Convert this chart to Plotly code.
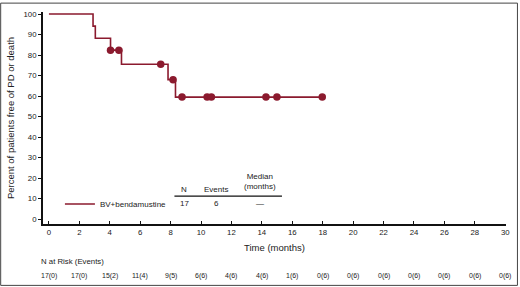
import plotly.graph_objects as go

# Kaplan-Meier step curve (time in months, % free of PD or death)
step_times = [0, 2.9, 3.05, 4.05, 4.77, 7.83, 8.32, 18.0]
step_surv = [100, 94.1, 88.2, 82.4, 75.5, 68.0, 59.5, 59.5]

# Censored observations
cens_times = [4.05, 4.6, 7.35, 8.16, 8.75, 10.4, 10.68, 14.27, 14.99, 17.97]
cens_surv = [82.4, 82.4, 75.5, 68.0, 59.5, 59.5, 59.5, 59.5, 59.5, 59.5]

# Number at risk table
risk_times = [0, 2, 4, 6, 8, 10, 12, 14, 16, 18, 20, 22, 24, 26, 28, 30]
risk_labels = ["17(0)", "17(0)", "15(2)", "11(4)", "9(5)", "6(6)", "4(6)", "4(6)",
               "1(6)", "0(6)", "0(6)", "0(6)", "0(6)", "0(6)", "0(6)", "0(6)"]

# Legend table
series_name = "BV+bendamustine"
table_headers = ["N", "Events", "Median<br>(months)"]
table_values = ["17", "6", "—"]

x_ticks = list(range(0, 31, 2))
y_ticks = list(range(0, 101, 10))

COLOR = "#8b1a2e"
TXT = "#222222"
FONT = "Liberation Sans, Arial, sans-serif"

fig = go.Figure()
fig.add_trace(go.Scatter(x=step_times, y=step_surv, mode="lines", line_shape="hv",
                         line=dict(color=COLOR, width=1.6), name=series_name,
                         showlegend=True))
fig.add_trace(go.Scatter(x=cens_times, y=cens_surv, mode="markers",
                         marker=dict(color=COLOR, size=7.5), showlegend=False))

W, H = 520, 287
ml, mr, mt, mb = 43, 12, 9.5, 62.7
pw = W - ml - mr
ph = H - mt - mb

def xp(px):
    return (px - ml) / pw

def yp(py):
    return (H - mb - py) / ph

ann = []
hdr_x = [185, 217, 261]
for hx, ht, hv in zip(hdr_x, table_headers, table_values):
    ann.append(dict(x=xp(hx), y=yp(189 if "Median" not in ht else 181.5), xref="paper", yref="paper",
                    text=ht, showarrow=False, font=dict(size=8, color=TXT, family=FONT),
                    xanchor="center", yanchor="middle"))
    ann.append(dict(x=xp(hx), y=yp(204), xref="paper", yref="paper",
                    text=hv, showarrow=False, font=dict(size=8, color=TXT, family=FONT),
                    xanchor="center", yanchor="middle"))

ann.append(dict(x=xp(39), y=yp(262), xref="paper", yref="paper", text="N at Risk (Events)",
                showarrow=False, font=dict(size=7.8, color=TXT, family=FONT),
                xanchor="left", yanchor="middle"))
for t, lab in zip(risk_times, risk_labels):
    ann.append(dict(x=t, y=yp(277), xref="x", yref="paper", text=lab, showarrow=False,
                    font=dict(size=7, color=TXT, family=FONT), xanchor="center", yanchor="middle"))

shapes = [
    dict(type="line", xref="paper", yref="paper", x0=xp(175), x1=xp(283), y0=yp(196), y1=yp(196),
         line=dict(color="#111", width=1.2)),
    dict(type="rect", xref="paper", yref="paper", x0=xp(0.5), x1=xp(W - 0.5), y0=yp(0.5), y1=yp(H - 0.5),
         line=dict(color="#444", width=1)),
]

fig.update_layout(
    width=W, height=H,
    margin=dict(l=ml, r=mr, t=mt, b=mb),
    paper_bgcolor="white", plot_bgcolor="white",
    font=dict(family=FONT, color=TXT, size=8),
    legend=dict(x=xp(60), y=yp(204), xanchor="left", yanchor="middle",
                bgcolor="rgba(0,0,0,0)", font=dict(size=8, color=TXT, family=FONT),
                itemwidth=30, tracegroupgap=0),
    annotations=ann,
    shapes=shapes,
    xaxis=dict(range=[-0.39, 30.05], tickvals=x_ticks, ticks="inside", ticklen=3,
               tickcolor="#111", showline=True, linecolor="#111", linewidth=1.8,
               showgrid=False, zeroline=False, tickfont=dict(size=7.8, color=TXT),
               title=dict(text="Time (months)", font=dict(size=9.5, color=TXT), standoff=8)),
    yaxis=dict(range=[-2.4, 101], tickvals=y_ticks, ticks="outside", ticklen=3,
               tickcolor="#111", showline=True, linecolor="#111", linewidth=1.8,
               showgrid=False, zeroline=False, tickfont=dict(size=7.8, color=TXT),
               title=dict(text="Percent of patients free of PD or death",
                          font=dict(size=9.5, color=TXT), standoff=7)),
)

fig.write_html("out.html", config={"displayModeBar": False},
               post_script="document.body.style.margin='0';document.body.style.padding='0';")
